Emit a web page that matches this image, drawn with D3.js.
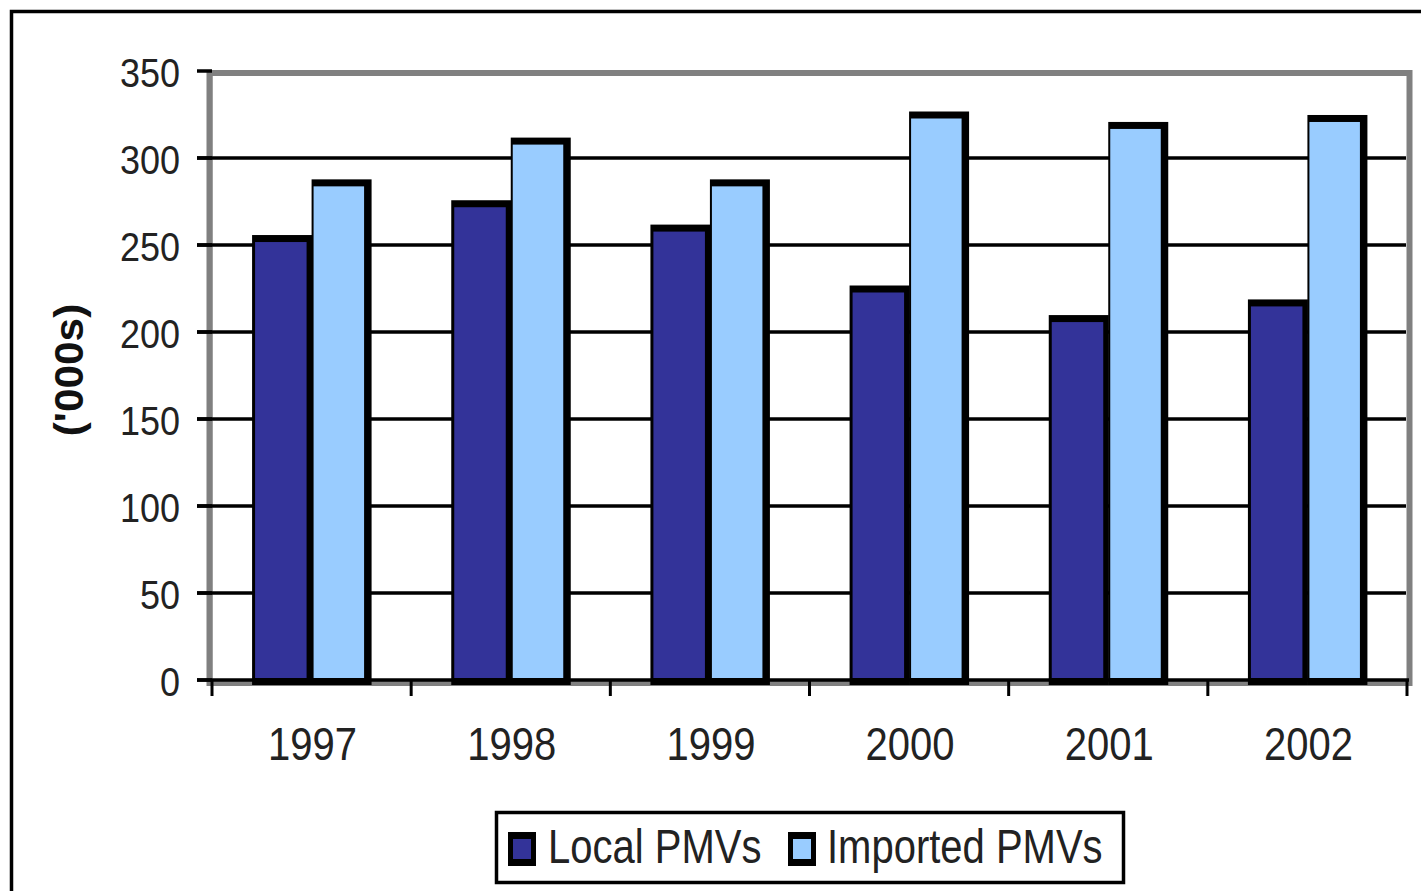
<!DOCTYPE html>
<html>
<head>
<meta charset="utf-8">
<script src="https://cdn.jsdelivr.net/npm/d3@7"></script>
<style>
  html, body { margin: 0; padding: 0; background: #fff; overflow: hidden; }
  svg { display: block; }
</style>
</head>
<body>
<svg id="chart" width="1421" height="891"></svg>
<script>
const years = ["1997", "1998", "1999", "2000", "2001", "2002"];
const seriesNames = ["Local PMVs", "Imported PMVs"];
const localValues = [254, 274, 260, 225, 208, 217];
const importedValues = [286, 310, 286, 325, 319, 323];
const yTickValues = [0, 50, 100, 150, 200, 250, 300, 350];
const seriesColors = ["#333399", "#99CCFF"];
const yTitle = "('000s)";

(function () {
const svg = d3.select("#chart");
const FONT = "'Liberation Sans', Arial, sans-serif";

// outer frame
svg.append("rect").attr("x", 11.5).attr("y", 11.5).attr("width", 1440).attr("height", 900)
  .attr("fill", "#fff").attr("stroke", "#000").attr("stroke-width", 3.5);

const plotLeft = 212, plotRight = 1407, plotTop = 71, base = 680;
const x0 = d3.scaleBand().domain(years).range([plotLeft, plotRight]);
const bw = x0.bandwidth();
const groupW = 119;
const x1 = d3.scaleBand().domain(seriesNames).range([(bw - groupW) / 2, (bw + groupW) / 2]);
const y = d3.scaleLinear().domain([0, 350]).range([base, plotTop]);

// plot frame (gray)
svg.append("rect").attr("x", 209.5).attr("y", 73).attr("width", 1200).attr("height", base + 3 - 73)
  .attr("fill", "none").attr("stroke", "#808080").attr("stroke-width", 6);
svg.append("line").attr("x1", 210).attr("x2", 210).attr("y1", 71).attr("y2", 684)
  .attr("stroke", "#808080").attr("stroke-width", 5);

// gridlines + left ticks
const gridG = svg.append("g");
gridG.selectAll("line.grid").data(yTickValues.filter(v => v > 0 && v < 350)).join("line")
  .attr("x1", 197).attr("x2", 1406).attr("y1", d => y(d)).attr("y2", d => y(d))
  .attr("stroke", "#000").attr("stroke-width", 3.5);
gridG.selectAll("line.tk").data(yTickValues).join("line")
  .attr("x1", 197).attr("x2", 212).attr("y1", d => y(d)).attr("y2", d => y(d))
  .attr("stroke", "#000").attr("stroke-width", 3.5);

// baseline
svg.append("line").attr("x1", 197).attr("x2", 1409).attr("y1", base).attr("y2", base)
  .attr("stroke", "#000").attr("stroke-width", 3.5);

// x ticks at band boundaries
const bounds = years.map(d => x0(d)).concat([plotRight]);
svg.selectAll("line.xt").data(bounds).join("line")
  .attr("x1", d => d).attr("x2", d => d).attr("y1", base).attr("y2", 696)
  .attr("stroke", "#000").attr("stroke-width", 3);

// bars
const data = years.map((yr, i) => ({ year: yr, values: [localValues[i], importedValues[i]] }));
const groups = svg.selectAll("g.grp").data(data).join("g")
  .attr("transform", d => `translate(${x0(d.year)},0)`);
groups.each(function(d) {
  const g = d3.select(this);
  d.values.forEach((v, si) => {
    const a = x1(seriesNames[si]);
    const w = x1.bandwidth();
    const yt = y(v);
    g.append("rect").attr("x", a).attr("y", yt - 3).attr("width", w + 0.5).attr("height", base + 5 - (yt - 3))
      .attr("fill", "#000");
    g.append("rect").attr("x", a + (si === 0 ? 3 : 2)).attr("y", yt + 4)
      .attr("width", w - (si === 0 ? 8 : 9)).attr("height", base - 2 - (yt + 4))
      .attr("fill", seriesColors[si]);
  });
});

// y tick labels
svg.selectAll("text.yl").data(yTickValues).join("text")
  .attr("transform", d => `translate(180,${y(d) + 15.5}) scale(1,1.12)`)
  .attr("text-anchor", "end").attr("font-family", FONT).attr("font-size", 36)
  .attr("fill", "#222").text(d => d);

// x labels
svg.selectAll("text.xl").data(years).join("text")
  .attr("transform", d => `translate(${x0(d) + bw / 2 + 1},760) scale(1,1.15)`)
  .attr("text-anchor", "middle").attr("font-family", FONT).attr("font-size", 40)
  .attr("fill", "#222").text(d => d);

// y title
svg.append("text")
  .attr("transform", "translate(83,370) rotate(-90) scale(1.06,1)")
  .attr("text-anchor", "middle").attr("font-family", FONT).attr("font-size", 40)
  .attr("font-weight", "bold").attr("fill", "#111").text(yTitle);

// legend
svg.append("rect").attr("x", 496.5).attr("y", 812.5).attr("width", 627).attr("height", 70)
  .attr("fill", "#fff").attr("stroke", "#000").attr("stroke-width", 3.5);
const legX = [508, 788];
const legTextX = [548, 827];
seriesNames.forEach((name, i) => {
  svg.append("rect").attr("x", legX[i]).attr("y", 832).attr("width", 28).attr("height", 34).attr("fill", "#000");
  svg.append("rect").attr("x", legX[i] + 5).attr("y", 839).attr("width", 18).attr("height", 20).attr("fill", seriesColors[i]);
  svg.append("text")
    .attr("transform", `translate(${legTextX[i]},863) scale(1,1.2)`)
    .attr("font-family", FONT).attr("font-size", 40).attr("fill", "#222").text(name);
});
})();
</script>
</body>
</html>
